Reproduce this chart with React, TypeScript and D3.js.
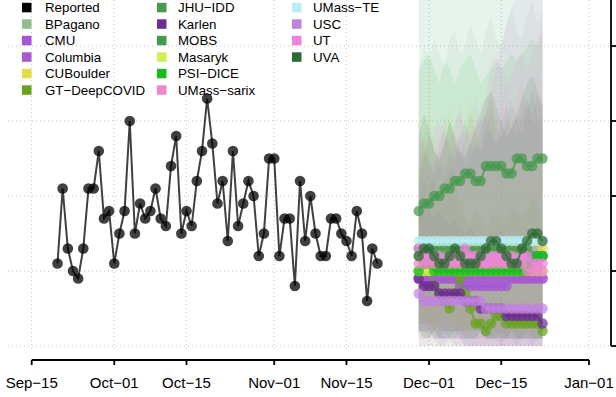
import React from 'react';
import * as d3 from 'd3';

const W = 616;
const H = 397;

// reported daily counts, Sep 20 .. Nov 21 2020
const reportedStart = Date.UTC(2020, 8, 20);
const reported = [11, 21, 13, 10, 9, 13, 21, 21, 26, 17, 18, 11, 15, 18, 30, 15, 19, 17, 18, 21, 17, 16, 24, 28, 15, 18, 16, 22, 26, 33, 27, 19, 22, 14, 26, 16, 19, 22, 20, 12, 15, 25, 25, 12, 17, 17, 8, 22, 14, 20, 15, 12, 12, 17, 17, 15, 14, 12, 18, 15, 6, 13, 11];

// forecasts, Nov 29 .. Dec 23 2020
const forecastStart = Date.UTC(2020, 10, 29);

const bpaganoMed = [12, 12, 12, 12, 12, 12, 12, 12, 12, 12, 12, 12, 12, 12, 12, 12, 12, 12, 12, 12, 12, 12, 12, 12, 12];
const bpaganoLo = [3, 3, 3, 3, 2, 2, 2, 2, 2, 2, 2, 2, 2, 1, 1, 1, 1, 1, 1, 1, 1, 1, 1, 1, 1];
const bpaganoHi = [36, 40, 38, 41, 39, 37, 41, 42, 39, 40, 43, 41, 39, 42, 44, 41, 40, 43, 45, 42, 41, 44, 46, 43, 45];

const cmuMed = [9, 9, 9, 9, 9, 9, 9, 9, 8, 8, 8, 8, 8, 8, 8, 8, 8, 8, 9, 9, 9, 9, 9, 9, 9];
const cmuLo = [1, 1, 1, 1, 0, 0, 1, 0, 0, 0, 0, 0, 0, 0, 0, 0, 0, 0, 0, 0, 0, 0, 0, 0, 0];
const cmuHi = [20, 22, 21, 23, 24, 22, 23, 25, 26, 24, 25, 27, 26, 28, 29, 27, 28, 30, 29, 31, 30, 32, 31, 33, 32];

const columbiaMed = [9, 8, 8, 9, 9, 9, 9, 9, 9, 9, 9, 9, 9, 9, 9, 9, 9, 9, 9, 9, 9, 9, 9, 9, 9];
const columbiaLo = [2, 2, 1, 2, 1, 1, 2, 1, 1, 1, 1, 1, 1, 1, 1, 1, 0, 1, 1, 0, 1, 1, 0, 1, 1];
const columbiaHi = [24, 26, 25, 23, 27, 29, 26, 25, 28, 30, 27, 26, 29, 31, 28, 27, 30, 32, 29, 28, 31, 33, 30, 29, 32];

const cuboulderMed = [13, 13, 13, 13, 13, 13, 13, 13, 13, 13, 13, 13, 13, 13, 13, 13, 13, 13, 13, 13, 13, 14, 14, 14, 13];
const cuboulderLo = [4, 3, 4, 3, 3, 4, 3, 3, 3, 3, 2, 3, 3, 2, 3, 2, 2, 3, 2, 2, 2, 3, 2, 2, 2];
const cuboulderHi = [26, 28, 31, 27, 25, 29, 32, 28, 26, 30, 33, 29, 27, 31, 33, 30, 28, 32, 30, 29, 33, 31, 30, 34, 32];

const gtMed = [10, 10, 10, 8, 7, 6, 5, 7, 9, 7, 5, 3, 3, 2, 3, 4, 4, 3, 3, 3, 3, 3, 3, 3, 2];
const gtLo = [0, 0, 0, 0, 0, 0, 0, 0, 0, 0, 0, 0, 0, 0, 0, 0, 0, 0, 0, 0, 0, 0, 0, 0, 0];
const gtHi = [30, 27, 24, 22, 20, 23, 26, 22, 19, 17, 16, 18, 17, 15, 17, 18, 16, 17, 19, 18, 17, 18, 20, 19, 17];

const jhuMed = [13, 13, 13, 13, 13, 13, 13, 13, 13, 13, 13, 13, 13, 13, 13, 13, 13, 13, 13, 13, 13, 13, 12, 12, 12];
const jhuLo = [3, 3, 3, 2, 3, 2, 2, 2, 2, 2, 2, 2, 2, 2, 1, 2, 1, 1, 1, 1, 1, 1, 1, 1, 1];
const jhuHi = [22, 25, 28, 26, 24, 27, 30, 27, 25, 28, 31, 28, 26, 29, 32, 29, 27, 30, 33, 30, 28, 31, 34, 31, 29];

const karlenMed = [9, 8, 8, 8, 7, 7, 7, 7, 7, 6, 6, 6, 5, 5, 5, 5, 5, 4, 4, 4, 4, 4, 4, 4, 3];
const karlenLo = [2, 2, 2, 1, 1, 1, 1, 1, 1, 0, 0, 0, 0, 0, 0, 0, 0, 0, 0, 0, 0, 0, 0, 0, 0];
const karlenHi = [18, 19, 18, 17, 18, 17, 16, 17, 16, 15, 16, 15, 14, 15, 14, 13, 14, 13, 12, 13, 12, 11, 12, 11, 10];

const mobsMed = [18, 19, 19, 20, 20, 21, 21, 22, 22, 23, 23, 22, 22, 24, 24, 24, 24, 23, 23, 25, 25, 24, 24, 25, 25];
const mobsLo = [10, 10, 10, 11, 11, 11, 11, 12, 12, 12, 12, 12, 12, 13, 13, 13, 13, 13, 13, 14, 14, 14, 14, 14, 14];
const mobsHi = [48, 50, 50, 52, 53, 53, 55, 56, 56, 58, 59, 59, 61, 62, 62, 64, 65, 66, 66, 68, 69, 70, 70, 72, 73];

const masarykMed = [10, 10, 10, 10, 10, 10, 10, 10, 10, 10, 10, 10, 10, 10, 10, 10, 10, 10, 10, 10, 10, 10, 10, 10, 10];
const masarykLo = [3, 2, 3, 2, 2, 3, 2, 2, 3, 2, 2, 2, 3, 2, 2, 2, 2, 3, 2, 2, 2, 2, 2, 2, 2];
const masarykHi = [21, 20, 22, 21, 23, 22, 21, 23, 22, 24, 23, 22, 24, 23, 25, 24, 23, 25, 24, 26, 25, 24, 26, 25, 27];

const psiMed = [10, 11, 11, 10, 10, 10, 10, 10, 10, 10, 10, 10, 10, 10, 10, 10, 10, 10, 10, 10, 10, 10, 11, 12, 12];
const psiLo = [2, 1, 2, 1, 1, 2, 1, 1, 2, 1, 1, 1, 2, 1, 1, 1, 2, 1, 1, 1, 1, 2, 1, 1, 1];
const psiHi = [37, 38, 39, 37, 35, 38, 37, 35, 37, 38, 39, 37, 35, 36, 37, 38, 37, 38, 39, 38, 39, 40, 41, 40, 42];

const sarixMed = [11, 11, 11, 11, 11, 11, 11, 11, 11, 11, 11, 11, 11, 11, 11, 11, 11, 11, 11, 11, 11, 10, 10, 10, 10];
const sarixLo = [2, 2, 2, 2, 2, 2, 2, 2, 2, 1, 2, 1, 1, 1, 1, 1, 1, 1, 1, 1, 1, 1, 1, 1, 1];
const sarixHi = [25, 27, 29, 26, 28, 31, 27, 29, 32, 28, 30, 33, 29, 31, 34, 30, 32, 35, 31, 33, 36, 32, 34, 37, 33];

const umassTeMed = [14, 14, 14, 14, 14, 14, 14, 14, 14, 14, 14, 14, 14, 14, 14, 14, 14, 14, 14, 14, 14, 14, 14, 14, 14];
const umassTeLo = [8, 8, 8, 8, 7, 7, 7, 7, 7, 7, 6, 6, 6, 6, 6, 6, 6, 5, 5, 5, 5, 5, 5, 5, 5];
const umassTeHi = [55, 55, 56, 56, 57, 57, 58, 59, 59, 60, 60, 61, 62, 62, 63, 63, 64, 65, 65, 66, 67, 67, 68, 69, 69];

const uscMed = [7, 6, 6, 6, 6, 6, 6, 6, 6, 6, 6, 6, 6, 5, 5, 5, 5, 5, 5, 5, 5, 5, 5, 5, 5];
const uscLo = [0, 0, 0, 0, 0, 0, 0, 0, 0, 0, 0, 0, 0, 0, 0, 0, 0, 0, 0, 0, 0, 0, 0, 0, 0];
const uscHi = [22, 24, 23, 25, 26, 24, 25, 27, 28, 26, 27, 29, 30, 31, 34, 37, 40, 43, 45, 47, 49, 52, 55, 57, 60];

const utMed = [13, 12, 12, 12, 12, 11, 12, 12, 12, 13, 12, 12, 12, 11, 12, 12, 12, 12, 12, 11, 12, 12, 11, 11, 11];
const utLo = [3, 3, 2, 3, 2, 2, 3, 2, 2, 2, 3, 2, 2, 2, 2, 2, 2, 2, 2, 2, 2, 2, 2, 2, 2];
const utHi = [27, 28, 26, 29, 30, 28, 27, 30, 31, 29, 28, 30, 32, 33, 38, 39, 37, 35, 36, 38, 39, 37, 39, 41, 43];

const uvaMed = [12, 13, 13, 12, 11, 11, 12, 13, 12, 11, 11, 11, 12, 13, 14, 14, 13, 12, 11, 11, 13, 14, 15, 15, 14];
const uvaLo = [2, 1, 1, 2, 1, 1, 1, 2, 1, 1, 1, 1, 2, 1, 1, 1, 1, 1, 2, 1, 1, 1, 1, 1, 1];
const uvaHi = [28, 31, 29, 26, 25, 27, 30, 28, 26, 25, 27, 29, 31, 33, 34, 32, 30, 28, 29, 31, 33, 35, 36, 34, 32];

const models = [
  {name: 'BPagano', med: bpaganoMed, lo: bpaganoLo, hi: bpaganoHi},
  {name: 'CMU', med: cmuMed, lo: cmuLo, hi: cmuHi},
  {name: 'Columbia', med: columbiaMed, lo: columbiaLo, hi: columbiaHi},
  {name: 'CUBoulder', med: cuboulderMed, lo: cuboulderLo, hi: cuboulderHi},
  {name: 'GT\u2212DeepCOVID', med: gtMed, lo: gtLo, hi: gtHi},
  {name: 'JHU\u2212IDD', med: jhuMed, lo: jhuLo, hi: jhuHi},
  {name: 'Karlen', med: karlenMed, lo: karlenLo, hi: karlenHi},
  {name: 'MOBS', med: mobsMed, lo: mobsLo, hi: mobsHi},
  {name: 'Masaryk', med: masarykMed, lo: masarykLo, hi: masarykHi},
  {name: 'PSI\u2212DICE', med: psiMed, lo: psiLo, hi: psiHi},
  {name: 'UMass\u2212sarix', med: sarixMed, lo: sarixLo, hi: sarixHi},
  {name: 'UMass\u2212TE', med: umassTeMed, lo: umassTeLo, hi: umassTeHi},
  {name: 'USC', med: uscMed, lo: uscLo, hi: uscHi},
  {name: 'UT', med: utMed, lo: utLo, hi: utHi},
  {name: 'UVA', med: uvaMed, lo: uvaLo, hi: uvaHi},
];

const colors: Record<string, string> = {
  'Reported': '#000000',
  'BPagano': '#8fbf8f',
  'CMU': '#a455d6',
  'Columbia': '#a85bd0',
  'CUBoulder': '#e6dc48',
  'GT\u2212DeepCOVID': '#67a31e',
  'JHU\u2212IDD': '#4a994f',
  'Karlen': '#6b2d8f',
  'MOBS': '#45994d',
  'Masaryk': '#cff152',
  'PSI\u2212DICE': '#14bd1c',
  'UMass\u2212sarix': '#ec88c8',
  'UMass\u2212TE': '#b8eef5',
  'USC': '#c282e0',
  'UT': '#ee84dc',
  'UVA': '#2e6a34',
};

const legendNames = ['Reported', ...models.map(m => m.name)];

const xTickDates = [
  Date.UTC(2020, 8, 15), Date.UTC(2020, 9, 1), Date.UTC(2020, 9, 15), Date.UTC(2020, 10, 1),
  Date.UTC(2020, 10, 15), Date.UTC(2020, 11, 1), Date.UTC(2020, 11, 15), Date.UTC(2021, 0, 1),
];
const xTickLabels = ['Sep\u221215', 'Oct\u221201', 'Oct\u221215', 'Nov\u221201', 'Nov\u221215', 'Dec\u221201', 'Dec\u221215', 'Jan\u221201'];
const yTicks = [0, 10, 20, 30, 40, 50];

const x = d3.scaleUtc()
  .domain([new Date(xTickDates[0]), new Date(xTickDates[7])])
  .range([31.7, 589]);
const y = d3.scaleLinear().domain([0, 40]).range([346, 46]);

const dayAt = (start: number, i: number) => d3.utcDay.offset(new Date(start), i);

const plotLeft = 8;
const plotRight = 611;
const plotBottom = 352;

const font = '"Liberation Sans", Arial, Helvetica, sans-serif';

export default function App() {
  const line = d3.line<number>()
    .x((_, i) => x(dayAt(forecastStart, i)))
    .y(d => y(d));

  const reportedLine = d3.line<number>()
    .x((_, i) => x(dayAt(reportedStart, i)))
    .y(d => y(d));

  return (
    <svg width={W} height={H} style={{position: 'absolute', left: 0, top: 0, background: '#fff'}}
      fontFamily={font}>
      {/* grid */}
      {xTickDates.map(d => (
        <line key={'gx' + d} x1={x(new Date(d))} x2={x(new Date(d))} y1={0} y2={plotBottom}
          stroke="#c4c4c4" strokeWidth={1} strokeDasharray="1,3" />
      ))}
      {yTicks.map(t => (
        <line key={'gy' + t} x1={plotLeft} x2={plotRight} y1={y(t)} y2={y(t)}
          stroke="#c4c4c4" strokeWidth={1} strokeDasharray="1,3" />
      ))}

      {/* prediction intervals */}
      {models.map(m => {
        const a = d3.area<number>()
          .x((_, i) => x(dayAt(forecastStart, i)))
          .y0((_, i) => y(m.lo[i]))
          .y1(d => y(d));
        return <path key={'pi' + m.name} d={a(m.hi) || ''} fill={colors[m.name]} fillOpacity={0.1} />;
      })}

      {/* forecast medians */}
      {models.map(m => (
        <g key={'md' + m.name}>
          <path d={line(m.med) || ''} fill="none" stroke={colors[m.name]} strokeOpacity={0.75} strokeWidth={2} />
          {m.med.map((v, i) => (
            <circle key={i} cx={x(dayAt(forecastStart, i))} cy={y(v)} r={5.2}
              fill={colors[m.name]} fillOpacity={0.72} />
          ))}
        </g>
      ))}

      {/* reported */}
      <path d={reportedLine(reported) || ''} fill="none" stroke="#000" strokeOpacity={0.75} strokeWidth={2} />
      {reported.map((v, i) => (
        <circle key={'r' + i} cx={x(dayAt(reportedStart, i))} cy={y(v)} r={5.3} fill="#000" fillOpacity={0.75} />
      ))}

      {/* legend */}
      {legendNames.map((n, i) => {
        const col = Math.floor(i / 6);
        const row = i % 6;
        const sx = [22, 157, 292][col];
        const tx = [45, 178, 313][col];
        const cy = 7.5 + row * 16.5;
        return (
          <g key={'lg' + n}>
            <rect x={sx} y={cy - 4.7} width={9.5} height={9.5} fill={colors[n]} />
            <text x={tx} y={cy + 4.7} fontSize={13.3} fill="#000">{n}</text>
          </g>
        );
      })}

      {/* x axis */}
      <line x1={x(new Date(xTickDates[0]))} x2={x(new Date(xTickDates[7]))} y1={360} y2={360} stroke="#000" strokeWidth={1.8} />
      {xTickDates.map((d, i) => (
        <g key={'xt' + d}>
          <line x1={x(new Date(d))} x2={x(new Date(d))} y1={360} y2={365} stroke="#000" strokeWidth={1.8} />
          <text x={x(new Date(d))} y={387.5} fontSize={15} textAnchor="middle" fill="#000">{xTickLabels[i]}</text>
        </g>
      ))}

      {/* right axis */}
      <line x1={plotRight} x2={plotRight} y1={y(yTicks[yTicks.length - 1])} y2={y(0)} stroke="#000" strokeWidth={1.8} />
      {yTicks.map(t => (
        <line key={'yt' + t} x1={plotRight} x2={plotRight + 5} y1={y(t)} y2={y(t)} stroke="#000" strokeWidth={1.8} />
      ))}
    </svg>
  );
}
